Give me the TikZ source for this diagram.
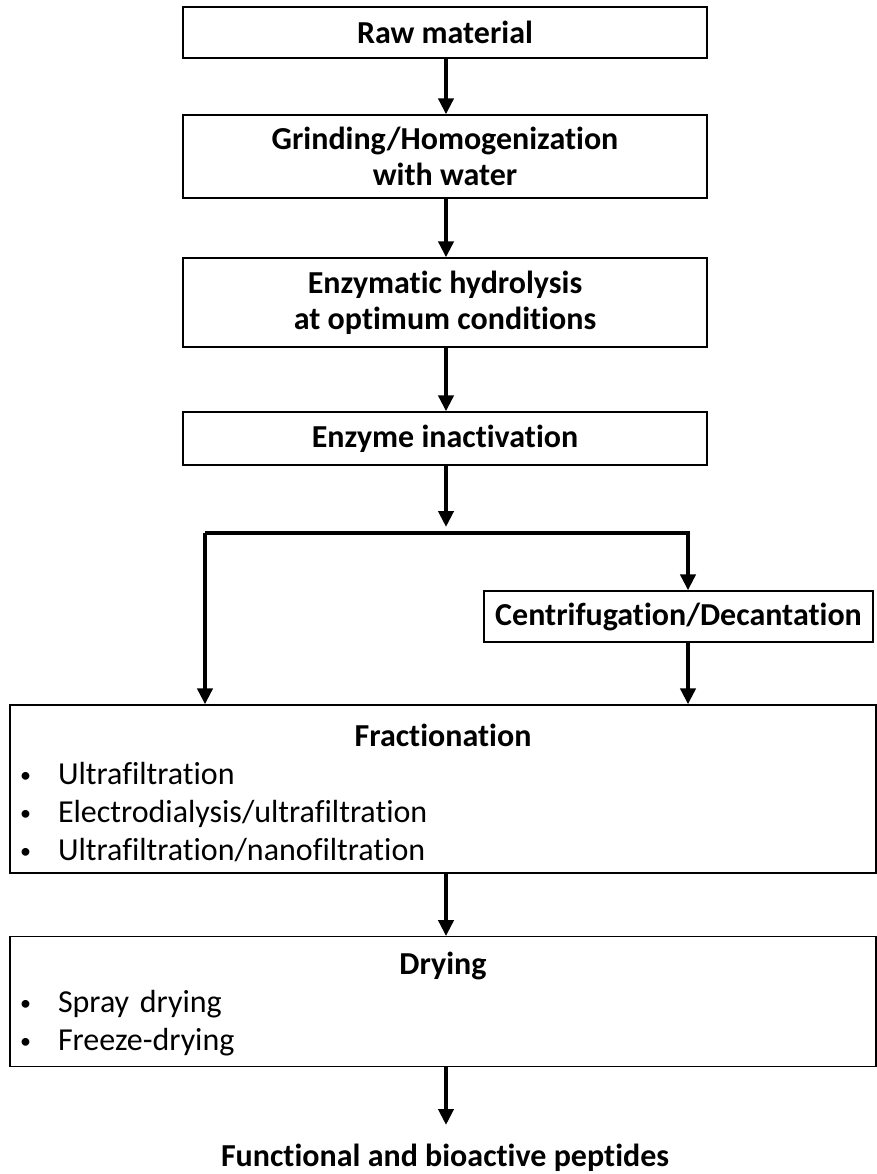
\documentclass[tikz,border=0pt]{standalone}
\usepackage{fontspec}
\setmainfont{Carlito}[Ligatures=NoCommon]
\usepackage{tikz}
\usetikzlibrary{arrows.meta,positioning}
\newcommand{\bulletitem}[1]{\makebox[38pt][l]{\raisebox{2pt}{\fontsize{22}{22}\selectfont\textbullet}}#1\par}

\begin{document}
\begin{tikzpicture}[x=1pt,y=-1pt]
\tikzstyle{stepbox}=[draw, line width=1.3pt, shape=rectangle, align=center, inner sep=0pt, minimum width=524pt, font=\fontsize{32}{36}\selectfont\bfseries]
\tikzstyle{listbox}=[draw, line width=1.3pt, shape=rectangle, inner sep=10pt, text width=846pt, font=\fontsize{32}{38}\selectfont]
\tikzstyle{flow}=[line width=4pt, line join=miter, -{Triangle[length=16pt,width=15pt]}]
\useasboundingbox (0,0) rectangle (876,1174);

\node[stepbox, minimum height=51pt] (raw) at (445,32.5) {Raw material};
\node[stepbox, minimum height=83pt] (grind) at (445,156.5) {Grinding/Homogenization\\with water};
\node[stepbox, minimum height=89pt] (enz) at (445,302.5) {Enzymatic hydrolysis\\at optimum conditions};
\node[stepbox, minimum height=53pt] (inact) at (445,438.5) {Enzyme inactivation};
\node[stepbox, minimum width=389pt, minimum height=51pt] (centr) at (678.5,616.5) {Centrifugation/Decantation};
\node[listbox, minimum height=168pt] (frac) at (443,789) {%
  {\centering\bfseries\rule{0pt}{31pt}Fractionation\par}\raggedright
  \bulletitem{Ultrafiltration}
  \bulletitem{Electrodialysis/ultrafiltration}
  \bulletitem{Ultrafiltration/nanofiltration}};
\node[listbox, minimum height=127pt] (dry) at (443,1001.5) {%
  {\centering\bfseries\rule{0pt}{28pt}Drying\par}\raggedright
  \bulletitem{Spray drying}
  \bulletitem{Freeze-drying}};
\node[font=\fontsize{32}{36}\selectfont\bfseries] (pept) at (445,1158) {Functional and bioactive peptides};

\coordinate (split) at (446,527);
\coordinate (bl) at (205,533);
\coordinate (br) at (688,533);
\coordinate (end) at (446,1125);

\draw[flow] (raw.south -| split) -- (grind.north -| split);
\draw[flow] (grind.south -| split) -- (enz.north -| split);
\draw[flow] (enz.south -| split) -- (inact.north -| split);
\draw[flow] (inact.south -| split) -- (split);
\draw[flow] (bl) -- (br) -- (centr.north -| br);
\draw[flow] (bl) -- (frac.north -| bl);
\draw[flow] (centr.south -| br) -- (frac.north -| br);
\draw[flow] (frac.south -| split) -- (dry.north -| split);
\draw[flow] (dry.south -| split) -- (end);

\end{tikzpicture}
\end{document}
